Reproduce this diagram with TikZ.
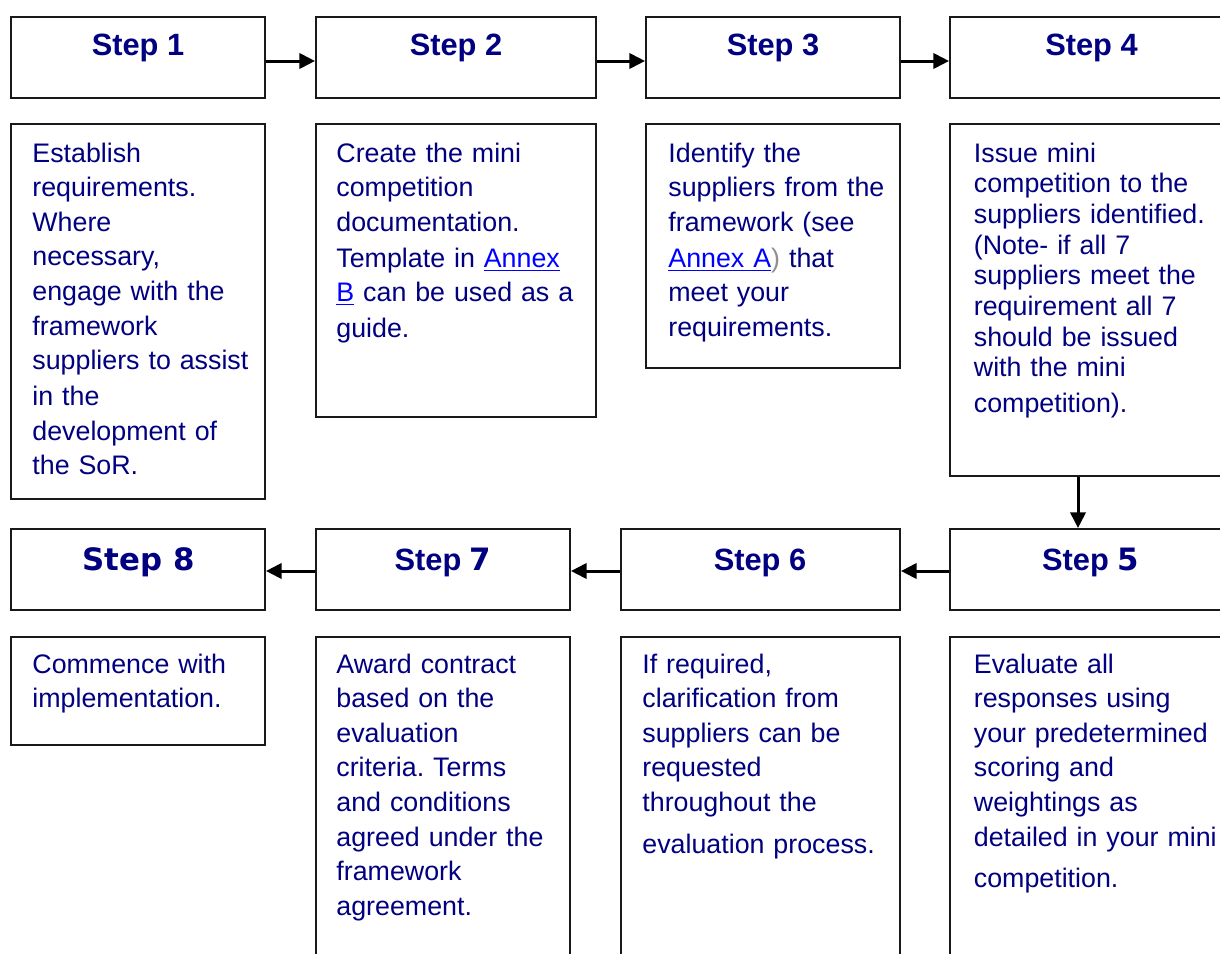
\documentclass[tikz,border=0pt]{standalone}
\usepackage{fontspec}
\setmainfont{Liberation Sans}
\newfontfamily\verd{DejaVu Sans}
\usetikzlibrary{arrows.meta,fit}
\frenchspacing
\definecolor{navy}{HTML}{000080}
\definecolor{linkblue}{HTML}{0000FF}
\definecolor{parengray}{HTML}{909090}
\newcommand{\annexlink}[1]{{\color{linkblue}\underline{#1}}}
\tikzset{
  box/.style={draw=black!90, line width=1pt, inner sep=0pt, fill=white},
  head/.style={anchor=base, inner sep=0pt, text=navy, font=\fontsize{15.4pt}{18pt}\selectfont\bfseries},
  desc/.style={anchor=base west, inner sep=0pt, text=navy, align=left, text width=135pt,
    font=\fontsize{13.4pt}{17.3pt}\selectfont\frenchspacing},
  descb/.style={desc, font=\fontsize{13.4pt}{15.35pt}\selectfont\frenchspacing},
  arr/.style={line width=1.5pt, -{Triangle[length=7.8pt,width=7.6pt]}},
}
\begin{document}
\begin{tikzpicture}[x=0.5pt,y=-0.5pt]
\useasboundingbox (0,0) rectangle (1220,953);
\clip (0,0) rectangle (1220,953);

% top row: step headers
\node[box, fit={(11,17) (265,98)}] (s1) {};
\node[box, fit={(316,17) (596,98)}] (s2) {};
\node[box, fit={(646,17) (900,98)}] (s3) {};
\node[box, fit={(950,17) (1233,98)}] (s4) {};
\node[head] (t1) at (138,55) {Step 1};
\node[head] (t2) at (456,55) {Step 2};
\node[head] (t3) at (773,55) {Step 3};
\node[head] (t4) at (1091.5,55) {Step 4};

% top row: descriptions
\node[box, fit={(11,124) (265,499)}] (d1) {};
\node[box, fit={(316,124) (596,417)}] (d2) {};
\node[box, fit={(646,124) (900,368)}] (d3) {};
\node[box, fit={(950,124) (1233,476)}] (d4) {};

\node[desc] (x1) at (32,162) {Establish\\requirements.\\Where\\necessary,\\engage with the\\framework\\suppliers to assist\\[0.6pt]in the\\development of\\the SoR.};
\node[desc] (x2) at (336,162) {Create the mini\\competition\\documentation.\\[0.6pt]Template in \annexlink{Annex}\\\annexlink{B} can be used as a\\[0.6pt]guide.};
\node[desc] (x3) at (668,162) {Identify the\\suppliers from the\\framework (see\\[0.6pt]\annexlink{Annex A}{\color{parengray})} that\\meet your\\requirements.};
\node[descb] (x4) at (973.5,162) {Issue mini\\competition to the\\suppliers identified.\\(Note- if all 7\\suppliers meet the\\requirement all 7\\should be issued\\with the mini\\[2.5pt]competition).};

% bottom row: step headers
\node[box, fit={(11,529) (265,610)}] (s8) {};
\node[box, fit={(316,529) (570,610)}] (s7) {};
\node[box, fit={(621,529) (900,610)}] (s6) {};
\node[box, fit={(950,529) (1233,610)}] (s5) {};
\node[head] (t8) at (138.5,570) {\verd Step 8};
\node[head] (t7) at (443,570) {Step {\verd 7}};
\node[head] (t6) at (760,570) {Step 6};
\node[head] (t5) at (1090.5,570) {Step {\verd 5}};

% bottom row: descriptions
\node[box, fit={(11,637) (265,745)}] (d8) {};
\node[box, fit={(316,637) (570,965)}] (d7) {};
\node[box, fit={(621,637) (900,965)}] (d6) {};
\node[box, fit={(950,637) (1233,965)}] (d5) {};

\node[desc] (x8) at (32,673) {Commence with\\implementation.};
\node[desc] (x7) at (336,673) {Award contract\\based on the\\evaluation\\criteria. Terms\\and conditions\\agreed under the\\framework\\agreement.};
\node[desc] (x6) at (642,673) {If required,\\clarification from\\suppliers can be\\requested\\throughout the\\[3.8pt]evaluation process.};
\node[desc] (x5) at (973.5,673) {Evaluate all\\responses using\\your predetermined\\scoring and\\weightings as\\detailed in your mini\\[3.2pt]competition.};

% connectors
\draw[arr] ([yshift=-1.75pt]s1.east) -- ([yshift=-1.75pt]s2.west);
\draw[arr] ([yshift=-1.75pt]s2.east) -- ([yshift=-1.75pt]s3.west);
\draw[arr] ([yshift=-1.75pt]s3.east) -- ([yshift=-1.75pt]s4.west);
\draw[arr] ([xshift=-6.75pt]d4.south) -- ([xshift=-6.75pt]s5.north);
\draw[arr] ([yshift=-0.75pt]s5.west) -- ([yshift=-0.75pt]s6.east);
\draw[arr] ([yshift=-0.75pt]s6.west) -- ([yshift=-0.75pt]s7.east);
\draw[arr] ([yshift=-0.75pt]s7.west) -- ([yshift=-0.75pt]s8.east);
\end{tikzpicture}
\end{document}
